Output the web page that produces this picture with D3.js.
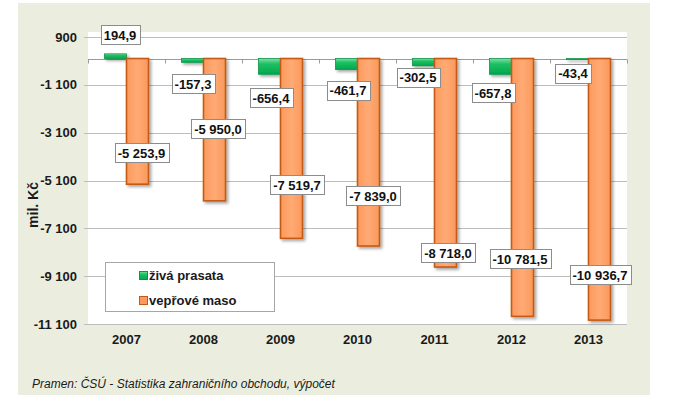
<!DOCTYPE html>
<html>
<head>
<meta charset="utf-8">
<script src="https://cdn.jsdelivr.net/npm/d3@7"></script>
<style>
  body { margin: 0; background: #fff; }
  svg { display: block; font-family: Arial, "Liberation Sans", sans-serif; }
</style>
</head>
<body>
<svg id="chart" width="673" height="410"></svg>
<script>
// data (mil. Kč)
var years = ["2007", "2008", "2009", "2010", "2011", "2012", "2013"];
var zivaPrasata = [194.9, -157.3, -656.4, -461.7, -302.5, -657.8, -43.4];
var veproveMaso = [-5253.9, -5950.0, -7519.7, -7839.0, -8718.0, -10781.5, -10936.7];
var yTicks = [900, -1100, -3100, -5100, -7100, -9100, -11100];
var seriesNames = ["živá prasata", "vepřové maso"];

// hand placed label nudges (px), the original labels were dragged around
var greenLabelDx = [4.5, 0.5, 1.5, 1.5, -5.5, -7.5, -4.5];
var greenLabelDy = [-19, 22, 24, 21, 12, 19, 14];
var orangeLabelDx = [4, 3.5, 5.5, 4.5, 2.5, -2.5, 0.5];
var orangeLabelDy = [-31, -72, -53, -50, -14, -57, -45];

var cz = d3.formatLocale({decimal: ",", thousands: " ", grouping: [3], currency: ["", ""], minus: "-"});
var fmtVal = cz.format(",.1f");
var fmtTick = cz.format(",d");

var svg = d3.select("#chart");
var plotLeft = 88, plotRight = 627, plotTop = 37, plotBottom = 324;

var defs = svg.append("defs");
var shadow = defs.append("filter").attr("id", "shadow")
    .attr("x", "-30%").attr("y", "-10%").attr("width", "170%").attr("height", "130%");
shadow.append("feDropShadow")
    .attr("dx", 2).attr("dy", 2).attr("stdDeviation", 1.4)
    .attr("flood-color", "#000").attr("flood-opacity", 0.35);

var gGrad = defs.append("linearGradient").attr("id", "gGrad")
    .attr("x1", 0).attr("y1", 0).attr("x2", 0).attr("y2", 1);
gGrad.append("stop").attr("offset", "0%").attr("stop-color", "#7fe0a6");
gGrad.append("stop").attr("offset", "35%").attr("stop-color", "#1fbf63");
gGrad.append("stop").attr("offset", "100%").attr("stop-color", "#00a84c");

var oGrad = defs.append("linearGradient").attr("id", "oGrad")
    .attr("x1", 0).attr("y1", 0).attr("x2", 1).attr("y2", 0);
oGrad.append("stop").attr("offset", "0%").attr("stop-color", "#fb9a5e");
oGrad.append("stop").attr("offset", "50%").attr("stop-color", "#ffaa74");
oGrad.append("stop").attr("offset", "100%").attr("stop-color", "#f9995c");

// backgrounds
svg.append("rect")
    .attr("x", 18).attr("y", 3).attr("width", 632).attr("height", 392)
    .attr("fill", "#ebeedf");
svg.append("rect")
    .attr("x", plotLeft).attr("y", 32).attr("width", plotRight - plotLeft).attr("height", plotBottom - 32)
    .attr("fill", "#ffffff");

var y = d3.scaleLinear().domain([-11100, 900]).range([plotBottom, plotTop]);
var x0 = d3.scaleBand().domain(years).range([plotLeft, plotRight]);
var x1 = d3.scaleBand().domain(["g", "o"]).range([0, x0.bandwidth()])
    .paddingInner(0).paddingOuter(0.75);

// grid + y labels
svg.append("g").selectAll("line")
    .data(yTicks)
    .enter()
    .append("line")
    .attr("x1", plotLeft - 4).attr("x2", plotRight)
    .attr("y1", function(d) { return Math.round(y(d)) + 0.5; })
    .attr("y2", function(d) { return Math.round(y(d)) + 0.5; })
    .attr("stroke", "#bdbdbd").attr("stroke-width", 1);

svg.append("g").selectAll("text")
    .data(yTicks)
    .enter()
    .append("text")
    .attr("x", 77)
    .attr("y", function(d) { return y(d); })
    .attr("dy", "0.35em")
    .attr("text-anchor", "end")
    .attr("font-size", 13).attr("font-weight", "bold").attr("fill", "#1a1a1a")
    .text(function(d) { return fmtTick(d); });

svg.append("text")
    .attr("transform", "translate(38,205) rotate(-90)")
    .attr("text-anchor", "middle")
    .attr("font-size", 14).attr("font-weight", "bold").attr("fill", "#1a1a1a")
    .text("mil. Kč");

// zero line with category ticks
var zeroY = Math.round(y(0)) + 0.5;
svg.append("line")
    .attr("x1", plotLeft).attr("x2", plotRight).attr("y1", zeroY).attr("y2", zeroY)
    .attr("stroke", "#9a9a9a");
svg.append("g").selectAll("line")
    .data(years.concat(["end"]))
    .enter()
    .append("line")
    .attr("x1", function(d, i) { return Math.round(plotLeft + i * x0.step()) + 0.5; })
    .attr("x2", function(d, i) { return Math.round(plotLeft + i * x0.step()) + 0.5; })
    .attr("y1", zeroY).attr("y2", zeroY + 4)
    .attr("stroke", "#9a9a9a");

// bars
var bars = svg.append("g").attr("filter", "url(#shadow)");
bars.selectAll("rect.green")
    .data(zivaPrasata)
    .enter()
    .append("rect")
    .attr("class", "green")
    .attr("x", function(d, i) { return x0(years[i]) + x1("g"); })
    .attr("y", function(d) { return y(Math.max(0, d)); })
    .attr("width", x1.bandwidth())
    .attr("height", function(d) { return Math.abs(y(d) - y(0)); })
    .attr("fill", "url(#gGrad)")
    .attr("stroke", "#0a9447").attr("stroke-width", 0.8);

bars.selectAll("rect.orange")
    .data(veproveMaso)
    .enter()
    .append("rect")
    .attr("class", "orange")
    .attr("x", function(d, i) { return x0(years[i]) + x1("o"); })
    .attr("y", function(d) { return y(Math.max(0, d)); })
    .attr("width", x1.bandwidth())
    .attr("height", function(d) { return Math.abs(y(d) - y(0)); })
    .attr("fill", "url(#oGrad)")
    .attr("stroke", "#c45a12").attr("stroke-width", 1.6);

// x labels
svg.append("g").selectAll("text")
    .data(years)
    .enter()
    .append("text")
    .attr("x", function(d) { return x0(d) + x0.bandwidth() / 2; })
    .attr("y", 339)
    .attr("dy", "0.35em")
    .attr("text-anchor", "middle")
    .attr("font-size", 13).attr("font-weight", "bold").attr("fill", "#1a1a1a")
    .text(function(d) { return d; });

// value labels in boxes
var drawLabel = function(cx, cy, txt)
{
    var g = svg.append("g");
    var t = g.append("text")
        .attr("x", cx).attr("y", cy).attr("dy", "0.36em")
        .attr("text-anchor", "middle")
        .attr("font-size", 13).attr("font-weight", "bold").attr("fill", "#111")
        .text(txt);
    var w = t.node().getComputedTextLength() + 6;
    g.insert("rect", "text")
        .attr("x", Math.round(cx - w / 2) + 0.5).attr("y", Math.round(cy - 10) + 0.5)
        .attr("width", Math.round(w)).attr("height", 19)
        .attr("fill", "#fff").attr("stroke", "#8c8c8c").attr("stroke-width", 1);
}

zivaPrasata.forEach(function(v, i)
{
    var cx = x0(years[i]) + x1("g") + x1.bandwidth() / 2 + greenLabelDx[i];
    drawLabel(cx, y(v) + greenLabelDy[i], fmtVal(v));
});
veproveMaso.forEach(function(v, i)
{
    var cx = x0(years[i]) + x1("o") + x1.bandwidth() / 2 + orangeLabelDx[i];
    drawLabel(cx, y(v) + orangeLabelDy[i], fmtVal(v));
});

// legend
var legend = svg.append("g");
legend.append("rect")
    .attr("x", 105.5).attr("y", 262.5).attr("width", 169).attr("height", 49)
    .attr("fill", "#fff").attr("stroke", "#a6a6a6");
var swatchFill = ["url(#gGrad)", "#fb9a5e"];
var swatchStroke = ["#0a9447", "#c45a12"];
seriesNames.forEach(function(name, i)
{
    var cy = 275.5 + i * 25;
    legend.append("rect")
        .attr("x", 139.5).attr("y", cy - 4).attr("width", 8).attr("height", 8)
        .attr("fill", swatchFill[i]).attr("stroke", swatchStroke[i]);
    legend.append("text")
        .attr("x", 149).attr("y", cy).attr("dy", "0.36em")
        .attr("font-size", 13).attr("font-weight", "bold").attr("fill", "#1a1a1a")
        .text(name);
});

// source
svg.append("text")
    .attr("x", 32).attr("y", 388)
    .attr("font-size", 12).attr("font-style", "italic").attr("fill", "#1a1a1a")
    .text("Pramen: ČSÚ - Statistika zahraničního obchodu, výpočet");
</script>
</body>
</html>
